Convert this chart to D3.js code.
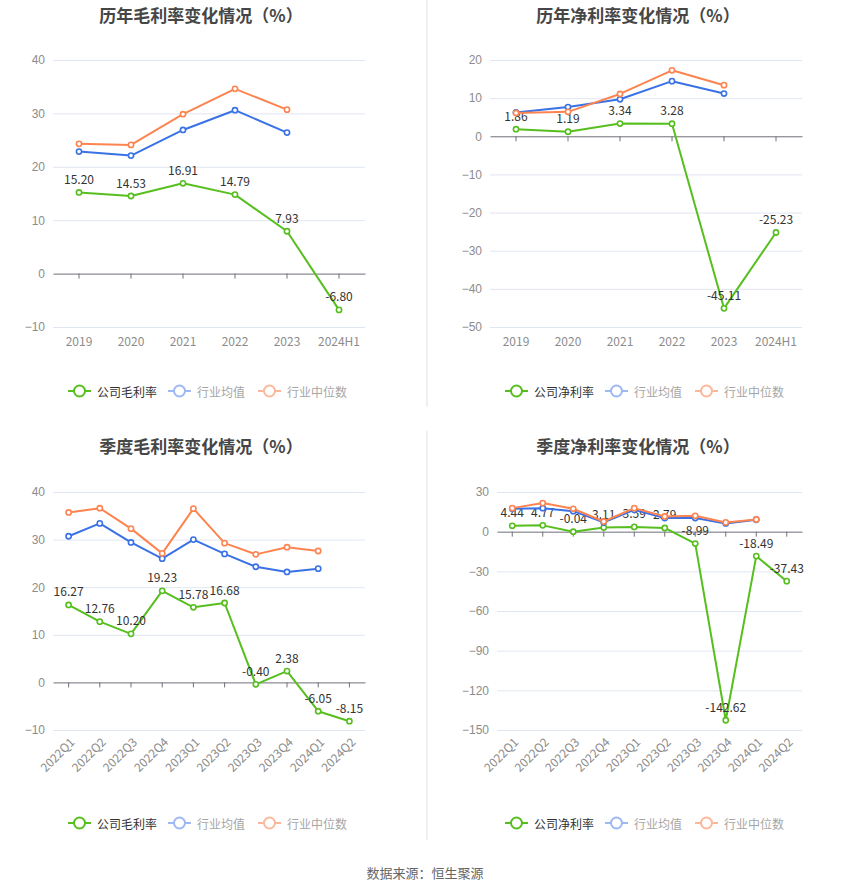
<!DOCTYPE html>
<html>
<head>
<meta charset="utf-8">
<script src="https://cdn.jsdelivr.net/npm/d3@7"></script>
<style>
  body { margin: 0; background: #fff; }
  svg { display: block; font-family: "Noto Sans CJK SC", "Noto Sans", sans-serif; }
</style>
</head>
<body>
<div id="chart"></div>
<script>
// categories
const yearCats = ["2019", "2020", "2021", "2022", "2023", "2024H1"];
const quarterCats = ["2022Q1", "2022Q2", "2022Q3", "2022Q4", "2023Q1", "2023Q2", "2023Q3", "2023Q4", "2024Q1", "2024Q2"];

// 历年毛利率
const annualGross = [15.20, 14.53, 16.91, 14.79, 7.93, -6.80];
const annualGrossAvg = [22.85, 22.1, 26.9, 30.6, 26.4];
const annualGrossMedian = [24.3, 24.1, 29.85, 34.6, 30.7];

// 历年净利率
const annualNet = [1.86, 1.19, 3.34, 3.28, -45.11, -25.23];
const annualNetAvg = [6.25, 7.65, 9.7, 14.45, 11.2];
const annualNetMedian = [6.1, 6.4, 11.1, 17.3, 13.4];

// 季度毛利率
const quarterGross = [16.27, 12.76, 10.20, 19.23, 15.78, 16.68, -0.40, 2.38, -6.05, -8.15];
const quarterGrossAvg = [30.7, 33.4, 29.4, 26.0, 30.0, 27.0, 24.3, 23.2, 23.9];
const quarterGrossMedian = [35.7, 36.6, 32.3, 27.1, 36.5, 29.25, 26.9, 28.4, 27.6];

// 季度净利率
const quarterNet = [4.44, 4.77, -0.04, 3.11, 3.59, 2.79, -8.99, -142.62, -18.49, -37.43];
const quarterNetAvg = [17.3, 17.8, 15.5, 7.0, 16.5, 10.3, 10.3, 6.2, 9.0];
const quarterNetMedian = [17.8, 21.6, 17.3, 7.7, 17.8, 11.5, 12.0, 7.0, 9.2];

// y tick labels
const ticksAnnualGross = [-10, 0, 10, 20, 30, 40];
const ticksAnnualNet = [-50, -40, -30, -20, -10, 0, 10, 20];
const ticksQuarterGross = [-10, 0, 10, 20, 30, 40];
const ticksQuarterNet = [-150, -120, -90, -60, -30, 0, 30];

const width = 850, height = 891;
const GREEN = "#56bf1e", BLUE = "#3a72e6", ORANGE = "#fd8450";

const panels = [
  { title: "历年毛利率变化情况（%）", name: "公司毛利率", cats: yearCats, main: annualGross,
    avg: annualGrossAvg, median: annualGrossMedian, ticks: ticksAnnualGross,
    box: [53, 365, 60, 327], titleAt: [201, 14], legendAt: [68, 391], rotate: false },
  { title: "历年净利率变化情况（%）", name: "公司净利率", cats: yearCats, main: annualNet,
    avg: annualNetAvg, median: annualNetMedian, ticks: ticksAnnualNet,
    box: [490, 802, 60, 327], titleAt: [638, 14], legendAt: [505, 391], rotate: false },
  { title: "季度毛利率变化情况（%）", name: "公司毛利率", cats: quarterCats, main: quarterGross,
    avg: quarterGrossAvg, median: quarterGrossMedian, ticks: ticksQuarterGross,
    box: [53, 365, 492, 730], titleAt: [201, 445], legendAt: [68, 823], rotate: true },
  { title: "季度净利率变化情况（%）", name: "公司净利率", cats: quarterCats, main: quarterNet,
    avg: quarterNetAvg, median: quarterNetMedian, ticks: ticksQuarterNet,
    box: [497, 802, 492, 730], titleAt: [638, 445], legendAt: [505, 823], rotate: true },
];

const svg = d3.select("#chart").append("svg")
  .attr("width", width)
  .attr("height", height)
  .attr("viewBox", [0, 0, width, height]);

// vertical divider between the two columns
svg.append("line").attr("x1", 427).attr("x2", 427).attr("y1", 0).attr("y2", 407)
  .attr("stroke", "#f0f0f0").attr("stroke-width", 2);
svg.append("line").attr("x1", 427).attr("x2", 427).attr("y1", 431).attr("y2", 840)
  .attr("stroke", "#f0f0f0").attr("stroke-width", 2);

panels.forEach(drawPanel);

svg.append("text")
  .attr("x", 425).attr("y", 872)
  .attr("text-anchor", "middle").attr("dominant-baseline", "central")
  .attr("font-size", 13).attr("fill", "#666")
  .text("数据来源：恒生聚源");

function drawPanel(p) {
  const [x0, x1, yTop, yBot] = p.box;
  const g = svg.append("g");

  const x = d3.scaleBand().domain(p.cats).range([x0, x1]);
  const y = d3.scaleLinear().domain(d3.extent(p.ticks)).range([yBot, yTop]);
  const cx = (d) => x(d) + x.bandwidth() / 2;

  // title
  g.append("text")
    .attr("x", p.titleAt[0]).attr("y", p.titleAt[1])
    .attr("text-anchor", "middle").attr("dominant-baseline", "central")
    .attr("font-size", 17).attr("font-weight", "bold").attr("fill", "#464646")
    .text(p.title);

  // y axis: grid + labels
  const yAxis = d3.axisLeft(y).tickValues(p.ticks).tickSize(0).tickPadding(8);
  g.append("g")
    .attr("transform", `translate(${x0},0)`)
    .call(yAxis)
    .call((s) => s.select(".domain").remove())
    .call((s) => s.selectAll(".tick text")
      .attr("font-size", 12).attr("fill", "#8c8c8c").attr("font-family", null))
    .call((s) => s.selectAll(".tick line").clone()
      .attr("x2", x1 - x0)
      .attr("stroke", (d) => (d === 0 ? "none" : "#e0e6f1")));

  // x axis line sits on zero
  const xAxis = d3.axisBottom(x).tickSize(5).tickFormat("").tickSizeOuter(0);
  g.append("g")
    .attr("transform", `translate(0,${y(0)})`)
    .call(xAxis)
    .call((s) => s.select(".domain").attr("stroke", "#6e7079"))
    .call((s) => s.selectAll(".tick line").attr("stroke", "#6e7079"));

  // x labels at the bottom of the plot
  const lab = g.append("g").selectAll("text").data(p.cats).join("text")
    .attr("font-size", 12).attr("fill", "#8c8c8c")
    .text((d) => d);
  if (p.rotate) {
    lab.attr("text-anchor", "end")
      .attr("transform", (d) => `translate(${cx(d) + 4},${yBot + 10}) rotate(-45)`)
      .attr("dy", "0.35em");
  } else {
    lab.attr("text-anchor", "middle")
      .attr("x", cx).attr("y", yBot + 13)
      .attr("dominant-baseline", "central");
  }

  const line = d3.line().x((d, i) => cx(p.cats[i])).y((d) => y(d));

  function drawSeries(values, color) {
    g.append("path").datum(values)
      .attr("fill", "none").attr("stroke", color).attr("stroke-width", 2)
      .attr("stroke-linejoin", "round")
      .attr("d", line);
    g.append("g").selectAll("circle").data(values).join("circle")
      .attr("cx", (d, i) => cx(p.cats[i])).attr("cy", (d) => y(d))
      .attr("r", 2.6).attr("fill", "#fff")
      .attr("stroke", color).attr("stroke-width", 1.6);
  }

  drawSeries(p.main, GREEN);
  g.append("g").selectAll("text").data(p.main).join("text")
    .attr("x", (d, i) => cx(p.cats[i])).attr("y", (d) => y(d) - 14)
    .attr("text-anchor", "middle").attr("dominant-baseline", "central")
    .attr("font-size", 12).attr("fill", "#333")
    .text((d) => d.toFixed(2));
  drawSeries(p.avg, BLUE);
  drawSeries(p.median, ORANGE);

  // legend
  const items = [
    { name: p.name, stroke: GREEN, text: "#333", dx: 0 },
    { name: "行业均值", stroke: "#9db8f2", text: "#a6a6a6", dx: 100 },
    { name: "行业中位数", stroke: "#fdb89b", text: "#a6a6a6", dx: 190 },
  ];
  const [lx, ly] = p.legendAt;
  const leg = g.append("g").selectAll("g").data(items).join("g")
    .attr("transform", (d) => `translate(${lx + d.dx},${ly})`);
  leg.append("line").attr("x1", 0).attr("x2", 23)
    .attr("stroke", (d) => d.stroke).attr("stroke-width", 2);
  leg.append("circle").attr("cx", 11.5).attr("r", 5.5)
    .attr("fill", "#fff").attr("stroke", (d) => d.stroke).attr("stroke-width", 2);
  leg.append("text").attr("x", 29).attr("dominant-baseline", "central")
    .attr("font-size", 12).attr("fill", (d) => d.text)
    .text((d) => d.name);
}
</script>
</body>
</html>
